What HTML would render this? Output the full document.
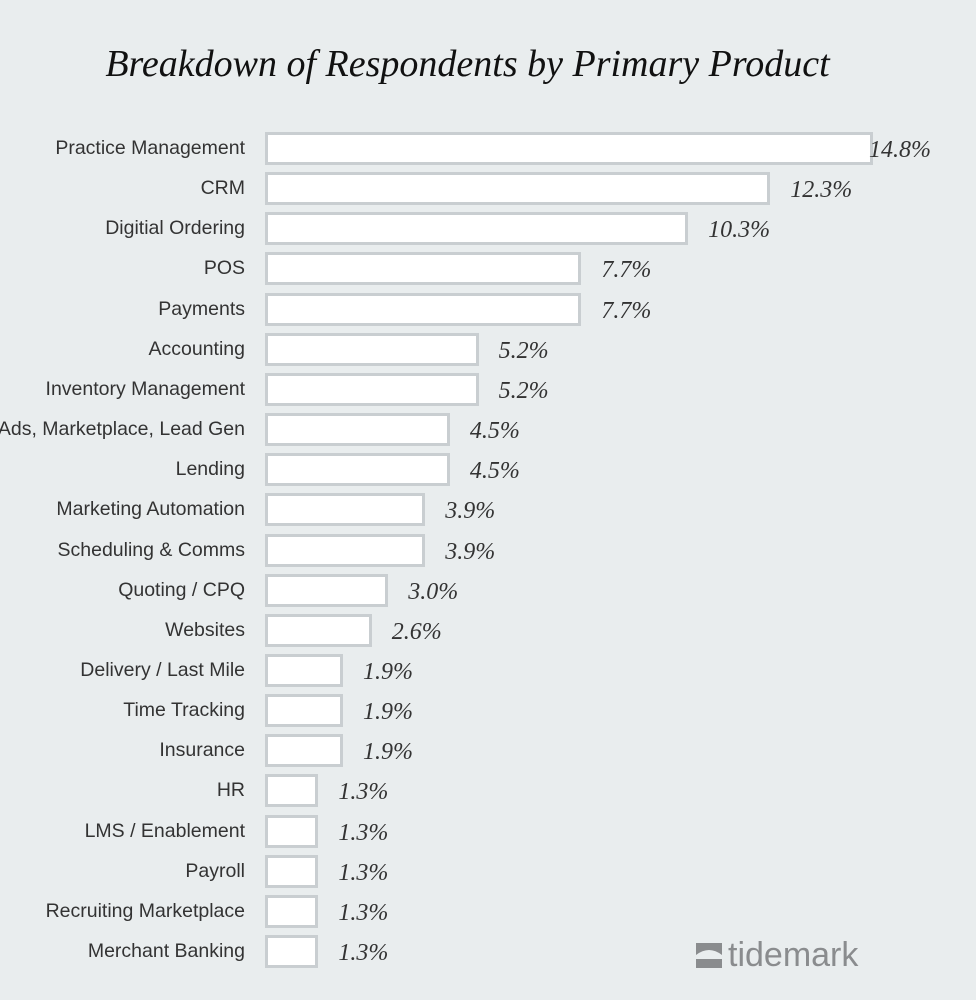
<!DOCTYPE html>
<html><head><meta charset="utf-8"><style>
html,body{margin:0;padding:0;background:#e9edee;}
#wrap{position:relative;width:976px;height:1000px;overflow:hidden;font-family:"Liberation Sans",sans-serif;}
#title{position:absolute;left:0;width:935px;top:42px;text-align:center;font-family:"Liberation Serif",serif;font-style:italic;font-size:38px;color:#111;}
.lbl{position:absolute;right:731px;font-size:19.5px;color:#333;white-space:nowrap;line-height:20px;}
.bar{position:absolute;height:27px;background:#fff;border:3px solid #c9ced1;box-sizing:content-box;}
.val{position:absolute;font-family:"Liberation Serif",serif;font-style:italic;font-size:24px;color:#333;line-height:26px;}
#logo{position:absolute;left:696px;top:936px;display:flex;align-items:center;color:#8a8c8e;font-size:34px;}
</style></head><body>
<div id="wrap">
<div id="title">Breakdown of Respondents by Primary Product</div>
<div id="rows"></div>
<div id="logo">
<svg width="26" height="26" viewBox="0 0 26 26" style="margin-right:6px"><rect x="0" y="0" width="26" height="12" fill="#8a8c8e"/><path d="M0 12 Q13 2 26 12Z" fill="#e9edee"/><rect x="0" y="16" width="26" height="9" fill="#8a8c8e"/></svg>tidemark</div>
</div>
<script>
const categories=["Practice Management","CRM","Digitial Ordering","POS","Payments","Accounting","Inventory Management","Ads, Marketplace, Lead Gen","Lending","Marketing Automation","Scheduling & Comms","Quoting / CPQ","Websites","Delivery / Last Mile","Time Tracking","Insurance","HR","LMS / Enablement","Payroll","Recruiting Marketplace","Merchant Banking"];
const values=[14.8,12.3,10.3,7.7,7.7,5.2,5.2,4.5,4.5,3.9,3.9,3.0,2.6,1.9,1.9,1.9,1.3,1.3,1.3,1.3,1.3];
const valueLabels=values.map(v=>v.toFixed(1)+"%");
const x0=265, pxPer=41.08, y0=148, step=40.15;
const xs=v=>v*pxPer, ys=i=>y0+i*step;
const rows=document.getElementById('rows');
categories.forEach((c,i)=>{
  const cy=ys(i);
  const l=document.createElement('div');l.className='lbl';l.textContent=c;l.style.top=(cy-10)+'px';
  
  
  rows.appendChild(l);
  const w=xs(values[i]);
  const b=document.createElement('div');b.className='bar';b.style.left=x0+'px';b.style.top=(cy-16)+'px';b.style.width=(w-6)+'px';
  
  
  rows.appendChild(b);
  const t=document.createElement('div');t.className='val';t.textContent=valueLabels[i];t.style.left=(x0+w-4+(i==0?0:24))+'px';t.style.top=(cy-11)+'px';
  
  
  rows.appendChild(t);
});
</script>
</body></html>
